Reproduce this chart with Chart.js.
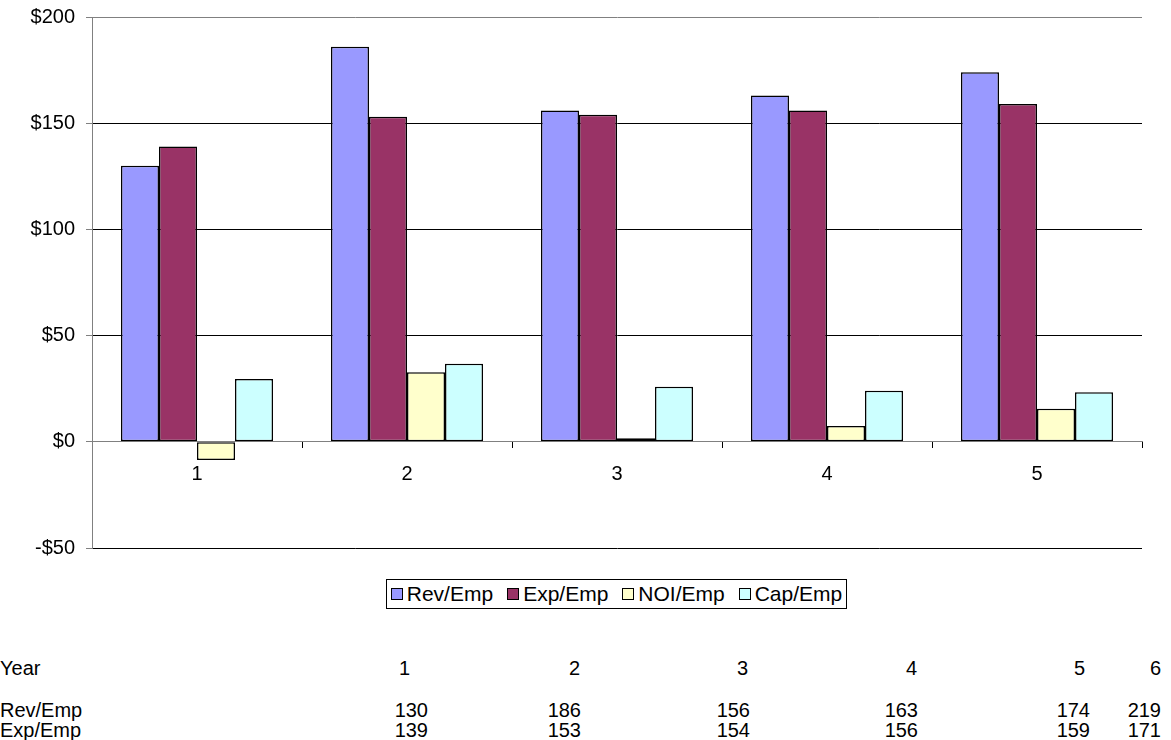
<!DOCTYPE html>
<html>
<head>
<meta charset="utf-8">
<script src="https://cdn.jsdelivr.net/npm/chart.js@4.4.1/dist/chart.umd.min.js"></script>
<style>
	body { margin: 0; background: #fff; font-family: "Liberation Sans", Arial, sans-serif; color: #000; }
	#wrap { position: relative; width: 1171px; height: 740px; overflow: hidden; }
	#chart { position: absolute; left: 0; top: 0; }
	#legend {
		position: absolute; left: 386px; top: 579px; width: 459px; height: 28px;
		border: 1px solid #000; display: flex; align-items: center; justify-content: center;
		font-size: 21px; white-space: nowrap;
	}
	#legend span.item { display: inline-flex; align-items: center; margin: 0 7px; }
	#legend span.swatch { display: inline-block; width: 10px; height: 10px; border: 1px solid #000; margin-right: 4px; }
	.cell { position: absolute; font-size: 20px; line-height: 22px; white-space: nowrap; }
</style>
</head>
<body>
<div id="wrap">
	<canvas id="chart" width="1171" height="571"></canvas>
	<div id="legend"></div>
	<div id="table"></div>
</div>
<script>
// Datos por empleado
const tableYears = [1, 2, 3, 4, 5, 6];
const tableRev = [130, 186, 156, 163, 174, 219];
const tableExp = [139, 153, 154, 156, 159, 171];

const years = ['1', '2', '3', '4', '5'];
const revEmp = tableRev.slice(0, 5);
const expEmp = tableExp.slice(0, 5);
const noiEmp = [-8.6, 32.7, 1.7, 7.4, 15.6];
const capEmp = [29.6, 36.8, 25.9, 24.0, 23.3];

const seriesNames = ['Rev/Emp', 'Exp/Emp', 'NOI/Emp', 'Cap/Emp'];
const seriesColors = ['#9999FF', '#993366', '#FFFFCC', '#CCFFFF'];

const yMin = -50;
const yMax = 200;
const yStep = 50;

Chart.defaults.font.family = '"Liberation Sans", Arial, sans-serif';
Chart.defaults.font.size = 20;
Chart.defaults.color = '#000';

const series = [revEmp, expEmp, noiEmp, capEmp];

const datasets = series.map((values, i) => ({
	label: seriesNames[i],
	data: values,
	backgroundColor: seriesColors[i],
	borderColor: '#000',
	borderWidth: 1.5,
	borderSkipped: false,
	categoryPercentage: 0.724,
	barPercentage: 1
}));

const canvas = document.getElementById('chart');

const graph = new Chart(canvas, {
	type: 'bar',
	data: { labels: years, datasets },
	options: {
		responsive: false,
		animation: false,
		layout: { padding: { top: 17, right: 29, bottom: 23, left: 0 } },
		plugins: { legend: { display: false }, tooltip: { enabled: false } },
		scales: {
			x: {
				position: { y: 0 },
				offset: true,
				grid: {
					offset: true,
					drawOnChartArea: false,
					tickLength: 6,
					tickColor: '#000'
				},
				border: { display: true, color: '#808080', width: 1 },
				ticks: { padding: 15 }
			},
			y: {
				min: yMin,
				max: yMax,
				// ancho fijo del eje y sin relleno extra arriba/abajo
				afterFit: (scale) => {
					scale.width = 92;
					scale.paddingTop = 0;
					scale.paddingBottom = 0;
				},
				grid: {
					color: (ctx) => (ctx.tick && (ctx.tick.value === yMax || ctx.tick.value === 0) ? '#808080' : '#000'),
					tickColor: '#808080',
					tickLength: 6
				},
				border: { display: true, color: '#808080', width: 1 },
				ticks: {
					stepSize: yStep,
					padding: 11,
					callback: (v) => (v < 0 ? '-$' + Math.abs(v) : '$' + v)
				}
			}
		}
	}
});

// Leyenda
const legend = document.getElementById('legend');
graph.data.datasets.forEach((ds) => {
	const item = document.createElement('span');
	item.className = 'item';
	const sw = document.createElement('span');
	sw.className = 'swatch';
	sw.style.background = ds.backgroundColor;
	item.appendChild(sw);
	item.appendChild(document.createTextNode(ds.label));
	legend.appendChild(item);
});

// Tabla de datos
const table = document.getElementById('table');
const yearRight = [410, 580, 748, 917, 1085, 1161];
const valueRight = [428, 581, 750, 918, 1090, 1161];
const rows = [
	{ name: 'Year', values: tableYears, top: 657, right: yearRight },
	{ name: 'Rev/Emp', values: tableRev, top: 699, right: valueRight },
	{ name: 'Exp/Emp', values: tableExp, top: 719, right: valueRight }
];

rows.forEach((row) => {
	const head = document.createElement('div');
	head.className = 'cell';
	head.style.left = '0px';
	head.style.top = row.top + 'px';
	head.textContent = row.name;
	table.appendChild(head);

	row.values.forEach((v, i) => {
		const cell = document.createElement('div');
		cell.className = 'cell';
		cell.style.right = (1171 - row.right[i]) + 'px';
		cell.style.top = row.top + 'px';
		cell.textContent = v;
		table.appendChild(cell);
	});
});
</script>
</body>
</html>
